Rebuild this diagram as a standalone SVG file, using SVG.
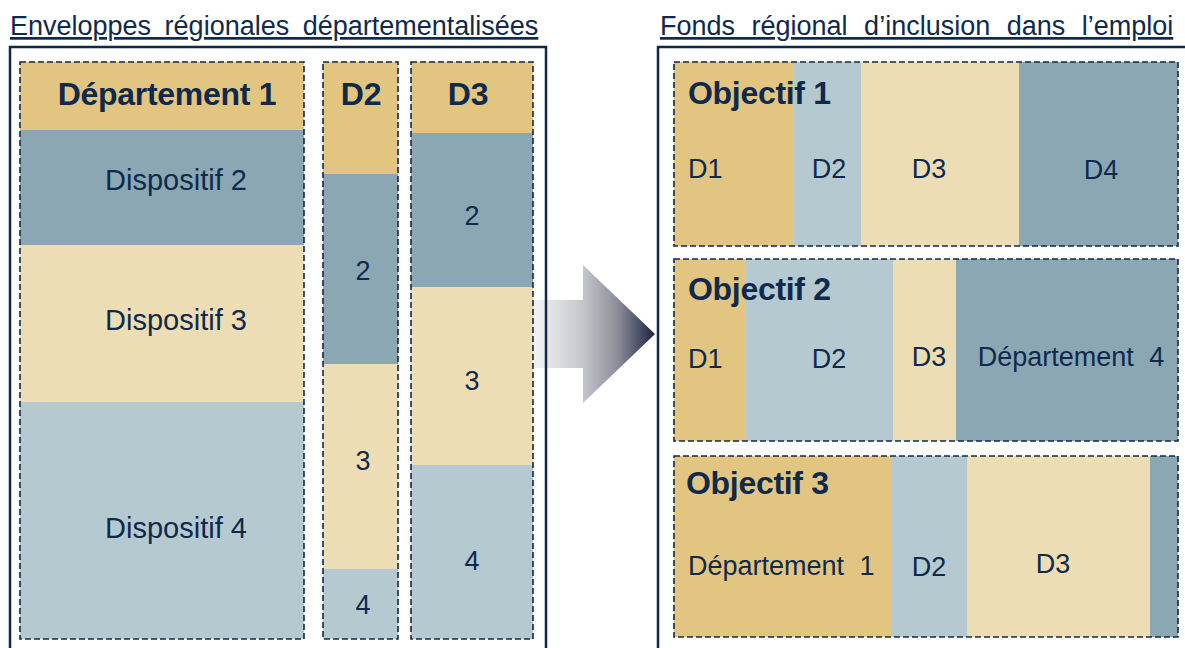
<svg xmlns="http://www.w3.org/2000/svg" width="1185" height="648" viewBox="0 0 1185 648">
<style>
  .gold{fill:#E2C581}
  .dblue{fill:#8AA7B3}
  .beige{fill:#EDDDB4}
  .lblue{fill:#B5C9D0}
  .dash{fill:none;stroke:#0f2847;stroke-width:1.6;stroke-dasharray:6 3}
  .frame{fill:none;stroke:#0f2847;stroke-width:2.5}
  text{font-family:"Liberation Sans",Arial,sans-serif;fill:#0f2a4c}
  .title{font-size:27px;text-decoration:underline}
  .hdr{font-size:32px;font-weight:bold;letter-spacing:-0.3px}
  .lbl{font-size:27px}
  .disp{font-size:29px}
  .c{text-anchor:middle}
</style>
<defs>
  <linearGradient id="arrowGrad" gradientUnits="userSpaceOnUse" x1="532" y1="0" x2="655" y2="0">
    <stop offset="0" stop-color="#f5f5f6"/>
    <stop offset="0.42" stop-color="#c4c5ca"/>
    <stop offset="0.7" stop-color="#8a8d98"/>
    <stop offset="1" stop-color="#1c2340"/>
  </linearGradient>
</defs>

<g id="connectors">
  <polygon points="532,300 583,300 583,265 655,334 583,403 583,368 532,368" fill="url(#arrowGrad)"/>
</g>

<g id="left-panel">
  <text class="title" x="10" y="35" style="word-spacing:6px">Enveloppes régionales départementalisées</text>
  <rect class="frame" x="10" y="47" width="536" height="620"/>
</g>

<g id="col-dep1">
  <rect class="gold" x="20" y="62" width="284" height="68"/>
  <rect class="dblue" x="20" y="130" width="284" height="115"/>
  <rect class="beige" x="20" y="245" width="284" height="157"/>
  <rect class="lblue" x="20" y="402" width="284" height="237"/>
  <rect class="dash" x="20" y="62" width="284" height="577"/>
  <text class="hdr c" x="167" y="105">Département 1</text>
  <text class="disp c" x="176" y="190">Dispositif 2</text>
  <text class="disp c" x="176" y="330">Dispositif 3</text>
  <text class="disp c" x="176" y="538">Dispositif 4</text>
</g>

<g id="col-d2">
  <rect class="gold" x="323" y="62" width="75" height="112"/>
  <rect class="dblue" x="323" y="174" width="75" height="190"/>
  <rect class="beige" x="323" y="364" width="75" height="205"/>
  <rect class="lblue" x="323" y="569" width="75" height="70"/>
  <rect class="dash" x="323" y="62" width="75" height="577"/>
  <text class="hdr c" x="361" y="105">D2</text>
  <text class="lbl c" x="363" y="280">2</text>
  <text class="lbl c" x="363" y="470">3</text>
  <text class="lbl c" x="363" y="614">4</text>
</g>

<g id="col-d3">
  <rect class="gold" x="411" y="62" width="122" height="71"/>
  <rect class="dblue" x="411" y="133" width="122" height="154"/>
  <rect class="beige" x="411" y="287" width="122" height="178"/>
  <rect class="lblue" x="411" y="465" width="122" height="174"/>
  <rect class="dash" x="411" y="62" width="122" height="577"/>
  <text class="hdr c" x="468" y="105">D3</text>
  <text class="lbl c" x="472" y="225">2</text>
  <text class="lbl c" x="472" y="390">3</text>
  <text class="lbl c" x="472" y="570">4</text>
</g>

<g id="right-panel">
  <text class="title" x="660" y="35" style="word-spacing:9px">Fonds régional d’inclusion dans l’emploi</text>
  <rect class="frame" x="658" y="47" width="560" height="620"/>
</g>

<g id="objectif-1">
  <rect class="gold" x="674" y="62" width="120" height="184"/>
  <rect class="lblue" x="794" y="62" width="67" height="184"/>
  <rect class="beige" x="861" y="62" width="158" height="184"/>
  <rect class="dblue" x="1019" y="62" width="159" height="184"/>
  <rect class="dash" x="674" y="62" width="504" height="184"/>
  <text class="hdr" x="688" y="104">Objectif 1</text>
  <text class="lbl" x="688" y="178">D1</text>
  <text class="lbl c" x="829" y="178">D2</text>
  <text class="lbl c" x="929" y="178">D3</text>
  <text class="lbl c" x="1101" y="179">D4</text>
</g>

<g id="objectif-2">
  <rect class="gold" x="674" y="259" width="72" height="182"/>
  <rect class="lblue" x="746" y="259" width="147" height="182"/>
  <rect class="beige" x="893" y="259" width="63" height="182"/>
  <rect class="dblue" x="956" y="259" width="222" height="182"/>
  <rect class="dash" x="674" y="259" width="504" height="182"/>
  <text class="hdr" x="688" y="300">Objectif 2</text>
  <text class="lbl" x="688" y="368">D1</text>
  <text class="lbl c" x="829" y="368">D2</text>
  <text class="lbl c" x="929" y="366">D3</text>
  <text class="lbl c" x="1071" y="366" style="word-spacing:8px">Département 4</text>
</g>

<g id="objectif-3">
  <rect class="gold" x="674" y="456" width="217" height="181"/>
  <rect class="lblue" x="891" y="456" width="76" height="181"/>
  <rect class="beige" x="967" y="456" width="183" height="181"/>
  <rect class="dblue" x="1150" y="456" width="28" height="181"/>
  <rect class="dash" x="674" y="456" width="504" height="181"/>
  <text class="hdr" x="686" y="494">Objectif 3</text>
  <text class="lbl" x="688" y="575" style="word-spacing:8px">Département 1</text>
  <text class="lbl c" x="929" y="576">D2</text>
  <text class="lbl c" x="1053" y="573">D3</text>
</g>
</svg>
